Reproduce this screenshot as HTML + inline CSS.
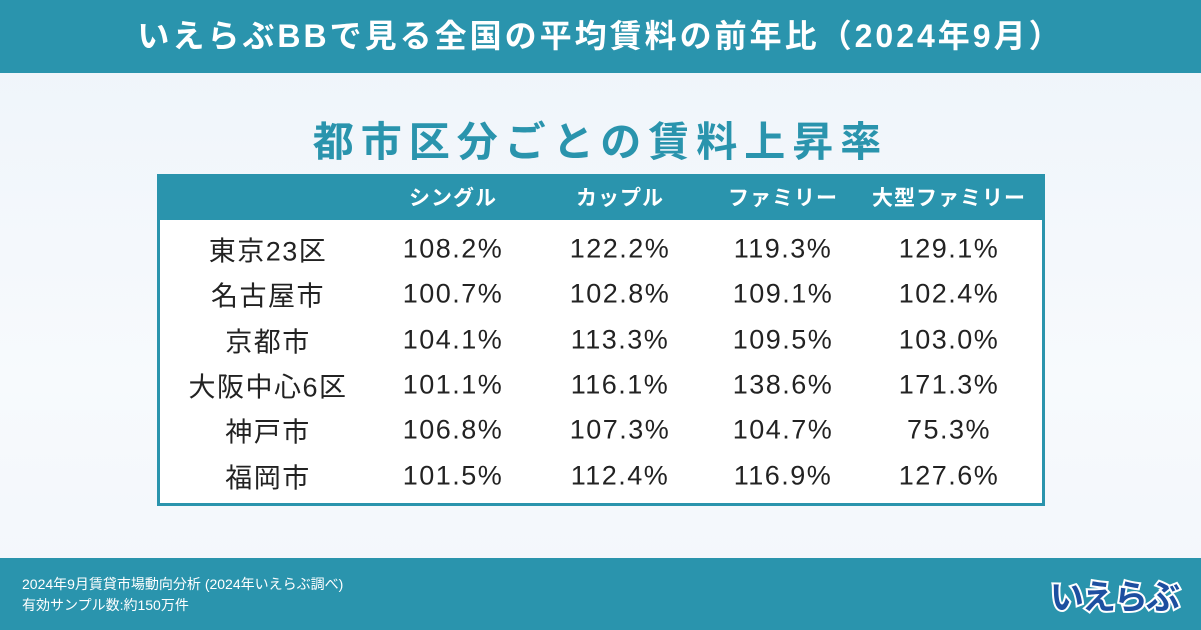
<!DOCTYPE html>
<html><head><meta charset="utf-8">
<style>
*{margin:0;padding:0;box-sizing:border-box}
body{width:1201px;height:630px;position:relative;overflow:hidden;background:linear-gradient(#eef4fa,#f7fafd 60%,#f2f6fb);font-family:"Liberation Sans","Noto Sans CJK JP",sans-serif}
#title{position:absolute;left:0;top:0;width:1201px;height:73px;background:#2a94ad;color:#fff;font-weight:bold;font-size:32px;text-align:center;line-height:73px;letter-spacing:3px}
#sub{position:absolute;left:0;top:108px;width:1201px;text-align:center;color:#2a94ad;font-weight:bold;font-size:41px;letter-spacing:7px}
#table{position:absolute;left:157px;top:174px;width:888px;height:332px;background:#fff;border:3px solid #2a94ad}
#thead{position:absolute;left:0;top:0;width:100%;height:43px;background:#2a94ad}
.c{position:absolute;transform:translate(-50%,-50%);white-space:nowrap}
.h{color:#fff;font-weight:bold;font-size:21px;letter-spacing:1px}
.v{color:#222;font-size:27px;letter-spacing:1.5px}
#footer{position:absolute;left:0;top:558px;width:1201px;height:72px;background:#2a94ad;color:#fff;font-size:14px}
</style></head><body>
<div id="title">いえらぶBBで見る全国の平均賃料の前年比（2024年9月）</div>
<div id="sub">都市区分ごとの賃料上昇率</div>
<div id="table"><div id="thead"></div></div>
<div id="footer">
<div style="position:absolute;left:22px;top:16px">2024年9月賃貸市場動向分析 (2024年いえらぶ調べ)</div>
<div style="position:absolute;left:22px;top:37px">有効サンプル数:約150万件</div>
<div style="position:absolute;left:1050px;top:12px;font-size:34px;font-weight:bold;color:#1d4fa0;-webkit-text-stroke:4px #fff;paint-order:stroke fill;letter-spacing:-2px">いえらぶ</div>
</div>
<script>
const columns=["シングル","カップル","ファミリー","大型ファミリー"];
const cities=["東京23区","名古屋市","京都市","大阪中心6区","神戸市","福岡市"];
const single=["108.2%","100.7%","104.1%","101.1%","106.8%","101.5%"];
const couple=["122.2%","102.8%","113.3%","116.1%","107.3%","112.4%"];
const family=["119.3%","109.1%","109.5%","138.6%","104.7%","116.9%"];
const large=["129.1%","102.4%","103.0%","171.3%","75.3%","127.6%"];
const series=[single,couple,family,large];
const tbl=document.getElementById('table');
const colX=[108,293,460,623,789];
const rowY=i=>72+i*45.3;
function add(txt,x,y,cls,name){const d=document.createElement('div');d.className='c '+cls;d.textContent=txt;d.style.left=x+'px';d.style.top=y+'px';


tbl.appendChild(d);}
columns.forEach((c,j)=>add(c,colX[j+1],20,'h','column-header'));
cities.forEach((c,i)=>{add(c,colX[0],rowY(i),'v','city-label');
series.forEach((s,j)=>add(s[i],colX[j+1],rowY(i),'v','value-cell'));});
</script>
</body></html>
